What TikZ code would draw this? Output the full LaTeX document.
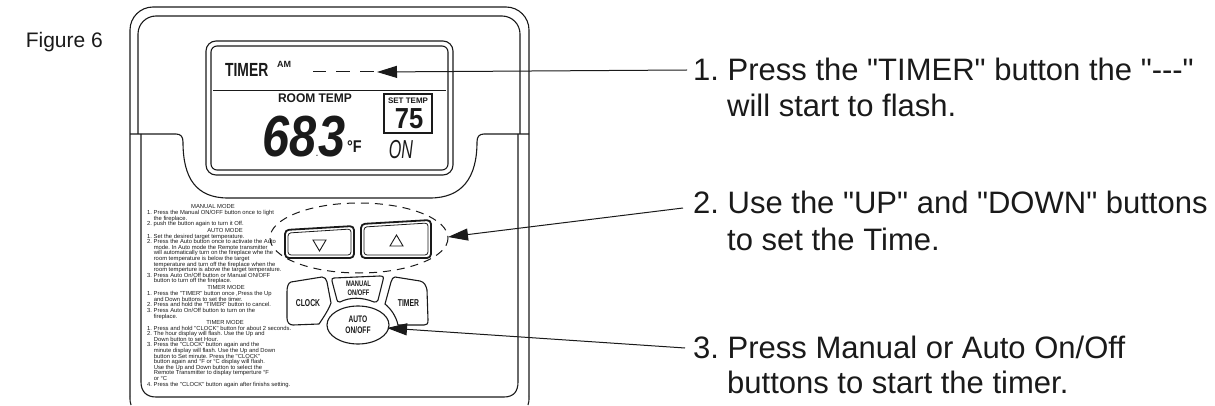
\documentclass[tikz,border=0pt]{standalone}
\usepackage{fontspec}
\setmainfont{Liberation Sans}[Ligatures=TeXOff]
\usetikzlibrary{arrows.meta}
\definecolor{ink}{HTML}{1A1A1A}
\newcommand{\ind}{\hspace*{6.6pt}}
\frenchspacing
\tikzset{
 ln/.style={draw=ink,line width=1.1pt},
 captxt/.style={font=\fontsize{31}{36}\selectfont,anchor=base west,text=ink,inner sep=0},
 tiny/.style={font=\fontsize{5.85}{5.6}\selectfont,anchor=north west,inner sep=0,align=left,text=ink},
 tinyc/.style={font=\fontsize{5.85}{5.6}\selectfont,anchor=base,inner sep=0,text=ink},
 btn/.style={font=\bfseries\fontsize{10}{11}\selectfont,inner sep=0,align=center,text=ink},
 lead/.style={draw=ink,line width=1pt,-{Triangle[length=20pt,width=12pt]}},
 lcd/.style={inner sep=0,text=ink},
}
\begin{document}
\begin{tikzpicture}[x=1pt,y=-1pt]
\useasboundingbox (0,0) rectangle (1215,406);
\node[font=\fontsize{21}{24}\selectfont,anchor=base east,inner sep=0,text=ink] (fig) at (103,48) {Figure 6};
% outer body
\draw[ln,rounded corners=23pt] (130,396) -- (130,7) -- (529,7) -- (529,396);
\draw[ln] (130,396) .. controls (130,400) and (130,403) .. (131,405);
\draw[ln] (529,396) .. controls (529,400) and (529,403) .. (528,405);
\draw[ln,rounded corners=18pt] (138,134) -- (138,16) -- (520,16) -- (520,134);
% faceplate
\draw[ln] (130,134) -- (176,134) .. controls (181,134) and (183,137) .. (183,142) .. controls (183,178) and (196,198) .. (228,198) -- (430,198) .. controls (462,198) and (477,178) .. (477,142) .. controls (477,137) and (479,134) .. (484,134) -- (529,134);
\draw[ln] (141,134) -- (141,382) .. controls (141,391) and (146,397) .. (156,397) -- (504,397) .. controls (514,397) and (518,391) .. (518,382) -- (518,134);
% LCD
\draw[ln,rounded corners=10pt] (206,41) rectangle (453,175);
\draw[ln,rounded corners=6pt] (211,46) rectangle (448,170);
\draw[draw=ink,line width=1pt] (213,91) -- (446,91);
\node[lcd,font=\bfseries\fontsize{19}{20}\selectfont,anchor=base west,xscale=.73] (tm) at (225,77) {TIMER};
\node[lcd,font=\bfseries\fontsize{9}{10}\selectfont,anchor=base west] (am) at (277,68) {AM};
\coordinate (d1a) at (313,72); \coordinate (d1b) at (326,72);
\coordinate (d2a) at (336,72); \coordinate (d2b) at (350,72);
\coordinate (d3a) at (360,72); \coordinate (d3b) at (374,72);
\draw[draw=ink,line width=1pt] (d1a) -- (d1b) (d2a) -- (d2b) (d3a) -- (d3b);
\coordinate (a1) at (377,72);
\coordinate (c1) at (687,70);
\draw[lead] (c1) -- (a1);
\node[lcd,font=\bfseries\fontsize{12.5}{13}\selectfont,anchor=base,xscale=.96] (rt) at (315,103) {ROOM TEMP};
\draw[draw=ink,line width=1.2pt] (384,94) rectangle (432,133);
\node[lcd,font=\bfseries\fontsize{8}{8}\selectfont,anchor=base,xscale=1] (st) at (408,104) {SET TEMP};
\node[lcd,font=\bfseries\itshape\fontsize{58}{58}\selectfont,anchor=base west,xscale=.84] (t68) at (262,157) {68{\fontsize{8}{8}\selectfont.}3};
\node[lcd,font=\bfseries\fontsize{17}{17}\selectfont,anchor=base west,xscale=.85] (df) at (347,153) {°F};
\node[lcd,font=\bfseries\fontsize{29}{29}\selectfont,anchor=base,xscale=.88] (t75) at (409,129) {75};
\node[lcd,font=\itshape\fontsize{26}{26}\selectfont,anchor=base,xscale=.62] (on) at (401,159) {ON};
% instructions
\node[tinyc] (h1) at (213,208.3) {MANUAL MODE};
\node[tiny] (b1) at (147,210) {1. Press the Manual ON/OFF button once to light\\\ind the fireplace.\\2. push the button again to turn it Off.};
\node[tinyc] (h2) at (225,232.3) {AUTO MODE};
\node[tiny] (b2) at (147,233.6) {1. Set the desired target temperature.\\2. Press the Auto button once to activate the Auto\\\ind mode. In Auto mode the Remote transmitter\\\ind will automatically turn on the fireplace whe the\\\ind room temperature is below the target\\\ind temperature and turn off the fireplace when the\\\ind room temperture is above the target temperature.\\3. Press Auto On/Off button or Manual ON/OFF\\\ind button to turn off the fireplace.};
\node[tinyc] (h3) at (226,289) {TIMER MODE};
\node[tiny] (b3) at (147,291.3) {1. Press the "TIMER" button once ,Press the Up\\\ind and Down buttons to set the timer.\\2. Press and hold the "TIMER" button to cancel.\\3. Press Auto On/Off button to turn on the\\\ind fireplace.};
\node[tinyc] (h4) at (225,324) {TIMER MODE};
\node[tiny] (b4) at (147,325.6) {1. Press and hold "CLOCK" button for about 2 seconds.\\2. The hour display will flash. Use the Up and\\\ind Down button to set Hour.\\3. Press the "CLOCK" button again and the\\\ind minute display will flash. Use the Up and Down\\\ind button to Set minute. Press the "CLOCK"\\\ind button again and °F or °C display will flash.\\\ind Use the Up and Down button to select the\\\ind Remote Transmitter to display temperture °F\\\ind or °C\\4. Press the "CLOCK" button again after finishs setting.};
% up/down
\draw[draw=ink,line width=1.8pt,rounded corners=4pt] (285,230) -- (354,226) -- (354,258) -- (285,258) -- cycle;
\draw[draw=ink,line width=.8pt,rounded corners=3pt] (288,233) -- (351,229) -- (351,255) -- (288,255) -- cycle;
\draw[draw=ink,line width=1.8pt,rounded corners=4pt] (361,224) -- (431,220) -- (431,258) -- (361,258) -- cycle;
\draw[draw=ink,line width=.8pt,rounded corners=3pt] (364,227) -- (428,223) -- (428,255) -- (364,255) -- cycle;
\draw[ln,line width=.9pt] (313,240) -- (326,240) -- (319.5,251) -- cycle;
\draw[ln,line width=.9pt] (390,246) -- (403,246) -- (396.5,235) -- cycle;
\draw[draw=ink,line width=1pt,dash pattern=on 8pt off 6pt] (359,238) ellipse[x radius=89,y radius=35];
\coordinate (a2) at (448,237);
\coordinate (c2) at (683,208);
\draw[lead] (c2) -- (a2);
% buttons
\draw[ln] (291,282) -- (322,277) .. controls (325,277) and (326,279) .. (327,282) -- (331,303) .. controls (328,311) and (323,318) .. (319,324) -- (293,325) .. controls (289,325) and (287,322) .. (287,318) -- (287,292) .. controls (287,287) and (288,283) .. (291,282) -- cycle;
\node[btn,xscale=.68] (ck) at (308,303) {CLOCK};
\draw[ln] (334,278) -- (380,276) .. controls (383,276) and (384,277) .. (383,280) -- (378,300) .. controls (377,302) and (376,302) .. (374,302) .. controls (362,297) and (350,297) .. (340,302) .. controls (338,302) and (337,301) .. (337,300) -- (332,281) .. controls (332,279) and (332,278) .. (334,278) -- cycle;
\node[btn,font=\bfseries\fontsize{8}{9}\selectfont,xscale=.72] (mn) at (358.5,288) {MANUAL\\ON/OFF};
\draw[ln] (395,277) -- (420,281) .. controls (424,282) and (426,285) .. (427,290) -- (428,320) .. controls (428,324) and (427,325) .. (424,325) -- (398,325) .. controls (396,316) and (391,309) .. (385,304) -- (391,282) .. controls (392,279) and (393,277) .. (395,277) -- cycle;
\node[btn,xscale=.68] (tb) at (408.5,303) {TIMER};
\draw[ln,fill=white] (358,325) ellipse[x radius=31,y radius=19];
\node[btn,font=\bfseries\fontsize{9.5}{11}\selectfont,xscale=.7] (au) at (358,325) {AUTO\\ON/OFF};
\coordinate (a3) at (387,328);
\coordinate (c3) at (685,348);
\draw[lead] (c3) -- (a3);
% captions
\node[captxt] (c1t) at (693,81) {1. Press the "TIMER" button the "---"};
\node[captxt] (c1b) at (727,117) {will start to flash.};
\node[captxt] (c2t) at (693,214) {2. Use the "UP" and "DOWN" buttons};
\node[captxt] (c2b) at (727,250) {to set the Time.};
\node[captxt] (c3t) at (693,358) {3. Press Manual or Auto On/Off};
\node[captxt] (c3b) at (727,393) {buttons to start the timer.};
\end{tikzpicture}
\end{document}
